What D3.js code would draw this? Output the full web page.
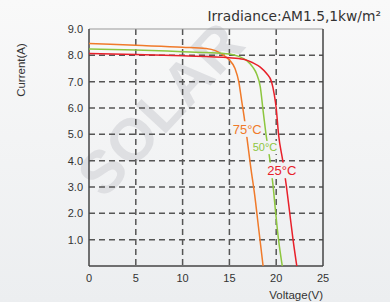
<!DOCTYPE html>
<html>
<head>
<meta charset="utf-8">
<script src="https://cdn.jsdelivr.net/npm/d3@7"></script>
<style>
  body { margin: 0; }
  svg { display: block; font-family: "Liberation Sans", Arial, sans-serif; }
</style>
</head>
<body>
<div id="chart"></div>
<script>
// I-V curves at three temperatures, [voltage, current]
const curve25 = [[0, 8.07], [5, 8.03], [10, 7.98], [15, 7.91], [16.5, 7.85], [17.5, 7.72], [18.3, 7.55], [19, 7.3], [19.5, 7.0], [19.8, 6.5], [20.0, 6.0], [20.25, 5.0], [20.7, 4.0], [21.1, 3.0], [21.45, 2.0], [21.8, 1.0], [22.2, 0]];
const curve50 = [[0, 8.24], [5, 8.2], [10, 8.14], [12.5, 8.11], [15, 8.05], [16, 7.96], [16.8, 7.82], [17.5, 7.55], [17.9, 7.3], [18.3, 6.8], [18.6, 5.9], [18.95, 4.9], [19.3, 4.1], [19.65, 3.1], [19.95, 2.0], [20.25, 1.0], [20.65, 0]];
const curve75 = [[0, 8.45], [5, 8.38], [10, 8.31], [12.5, 8.26], [13.5, 8.18], [14.3, 8.02], [15, 7.82], [15.6, 7.5], [16, 7.0], [16.3, 6.3], [16.6, 5.6], [16.9, 4.8], [17.3, 3.7], [17.7, 2.7], [18.1, 1.5], [18.6, 0]];
const seriesLabels = ["25°C", "50°C", "75°C"];
const xTicks = [0, 5, 10, 15, 20, 25];
const yTicks = [1, 2, 3, 4, 5, 6, 7, 8, 9];

const width = 390;
const height = 302;

const svg = d3.select("#chart")
    .append("svg")
    .attr("width", width)
    .attr("height", height);

const defs = svg.append("defs");
const grad = defs.append("linearGradient")
    .attr("id", "bg")
    .attr("x1", 0).attr("y1", 0).attr("x2", 0).attr("y2", 1);
grad.append("stop").attr("offset", "0%").attr("stop-color", "#f9f9f9");
grad.append("stop").attr("offset", "100%").attr("stop-color", "#eceef0");

svg.append("rect")
    .attr("width", width)
    .attr("height", height)
    .attr("fill", "url(#bg)");

const x = d3.scaleLinear().domain([0, 25]).range([89, 323]);
const y = d3.scaleLinear().domain([0, 9]).range([266, 29]);

// watermark
svg.append("text")
    .attr("transform", "translate(104,200) rotate(-47)")
    .attr("font-size", 60)
    .attr("font-weight", "bold")
    .attr("fill", "#dedfe2")
    .text("SOLAR");

// grid
svg.selectAll(".hgrid")
    .data(yTicks.slice(0, -1))
    .join("line")
    .attr("x1", x(0))
    .attr("x2", x(25))
    .attr("y1", d => y(d))
    .attr("y2", d => y(d))
    .attr("stroke", "#555")
    .attr("stroke-width", 1.5)
    .attr("stroke-dasharray", "6,4");

svg.selectAll(".vgrid")
    .data(xTicks.slice(1, -1))
    .join("line")
    .attr("x1", d => x(d))
    .attr("x2", d => x(d))
    .attr("y1", y(9))
    .attr("y2", y(0))
    .attr("stroke", "#555")
    .attr("stroke-width", 1.5)
    .attr("stroke-dasharray", "6,4");

// frame
svg.append("line")
    .attr("x1", x(0)).attr("x2", x(25))
    .attr("y1", y(9)).attr("y2", y(9))
    .attr("stroke", "#999").attr("stroke-width", 1);
svg.append("line")
    .attr("x1", x(25)).attr("x2", x(25))
    .attr("y1", y(9)).attr("y2", y(0))
    .attr("stroke", "#444").attr("stroke-width", 1.5);
svg.append("line")
    .attr("x1", x(0)).attr("x2", x(0))
    .attr("y1", y(9)).attr("y2", y(0))
    .attr("stroke", "#444").attr("stroke-width", 1.5);
svg.append("line")
    .attr("x1", x(0)).attr("x2", x(25))
    .attr("y1", y(0)).attr("y2", y(0))
    .attr("stroke", "#444").attr("stroke-width", 1.5);

// curves
const line = d3.line()
    .x(d => x(d[0]))
    .y(d => y(d[1]))
    .curve(d3.curveMonotoneX);

const series = [
    { data: curve75, color: "#f07a2a" },
    { data: curve50, color: "#8dc63f" },
    { data: curve25, color: "#e8202a" }
];

svg.selectAll(".curve")
    .data(series)
    .join("path")
    .attr("d", d => line(d.data))
    .attr("fill", "none")
    .attr("stroke", d => d.color)
    .attr("stroke-width", 1.5);

// curve labels with a gap in the line behind them
const labels = [
    { text: seriesLabels[2], v: 16.9, i: 5.2, size: 13, color: "#f07a2a", w: 30 },
    { text: seriesLabels[1], v: 18.8, i: 4.5, size: 11, color: "#8dc63f", w: 24 },
    { text: seriesLabels[0], v: 20.6, i: 3.63, size: 13, color: "#e8202a", w: 30 }
];

const lab = svg.selectAll(".lab")
    .data(labels)
    .join("g")
    .attr("transform", d => `translate(${x(d.v)},${y(d.i)})`);

lab.append("rect")
    .attr("x", d => -d.w / 2 - 1)
    .attr("y", d => -d.size * 0.6)
    .attr("width", d => d.w + 2)
    .attr("height", d => d.size * 1.2)
    .attr("fill", "#f2f3f4");

lab.append("text")
    .attr("text-anchor", "middle")
    .attr("dy", "0.35em")
    .attr("font-size", d => d.size)
    .attr("fill", d => d.color)
    .text(d => d.text);

// tick labels
svg.selectAll(".ylab")
    .data(yTicks)
    .join("text")
    .attr("x", 83)
    .attr("y", d => y(d))
    .attr("dy", "0.35em")
    .attr("text-anchor", "end")
    .attr("font-size", 11)
    .attr("fill", "#333")
    .text(d => d3.format(".1f")(d));

svg.selectAll(".xlab")
    .data(xTicks)
    .join("text")
    .attr("x", d => x(d))
    .attr("y", 282)
    .attr("text-anchor", "middle")
    .attr("font-size", 11)
    .attr("fill", "#333")
    .text(d => d);

// axis titles
svg.append("text")
    .attr("transform", "translate(25,70) rotate(-90)")
    .attr("text-anchor", "middle")
    .attr("font-size", 11.5)
    .attr("fill", "#333")
    .text("Current(A)");

svg.append("text")
    .attr("x", 323)
    .attr("y", 299)
    .attr("text-anchor", "end")
    .attr("font-size", 11.5)
    .attr("fill", "#333")
    .text("Voltage(V)");

svg.append("text")
    .attr("x", 381)
    .attr("y", 21)
    .attr("text-anchor", "end")
    .attr("font-family", "DejaVu Sans")
    .attr("font-size", 13.8)
    .attr("fill", "#333")
    .text("Irradiance:AM1.5,1kw/m²");
</script>
</body>
</html>
